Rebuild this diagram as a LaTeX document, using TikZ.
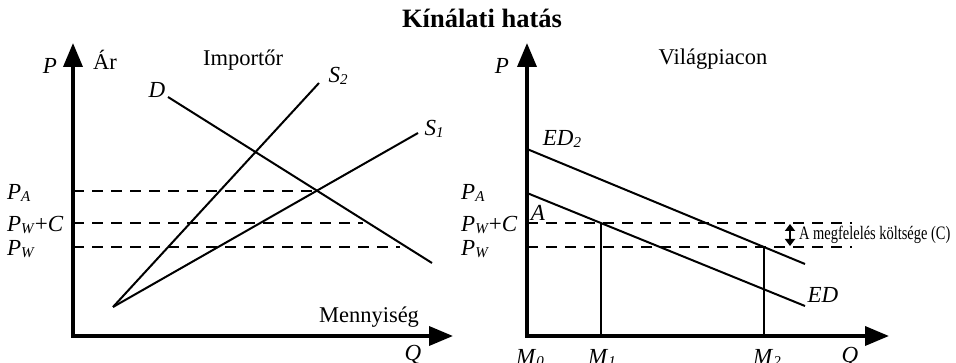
\documentclass[tikz,border=0pt]{standalone}
\usepackage{fontspec}
\setmainfont{Liberation Serif}
\usepackage{graphicx}
\usetikzlibrary{arrows.meta}
\newcommand{\lsub}[2]{\textit{#1}\raisebox{-1.5pt}{\fontsize{15}{15}\selectfont\textit{#2}}}
\begin{document}
\begin{tikzpicture}[x=1pt,y=-1pt,
  axisline/.style={line width=3.6pt,line join=miter,{Triangle[length=24pt,width=19pt]}-{Triangle[length=24pt,width=19pt]}},
  dashline/.style={line width=2pt,dash pattern=on 11pt off 8pt},
  curve/.style={line width=2pt},
  txt/.style={inner sep=0pt,font=\fontsize{22.5}{26}\selectfont},
  lab/.style={inner sep=0pt,font=\fontsize{23}{27}\selectfont\itshape},
  slab/.style={inner sep=0pt,font=\fontsize{23}{27}\selectfont},
  plab/.style={inner sep=0pt,anchor=west,font=\fontsize{23}{27}\selectfont}]
\useasboundingbox (0,0) rectangle (956,363);
\fill[white] (0,0) rectangle (956,363);

\node[inner sep=0pt,font=\fontsize{26.5}{30}\selectfont\bfseries] (title) at (482,18) {Kínálati hatás};

% ---------- left panel ----------
\coordinate (LY) at (73,43);
\coordinate (LO) at (73,336);
\coordinate (LX) at (453,336);
\draw[axisline] (LY) -- (LO) -- (LX);

\coordinate (LA0) at (73,191);  \coordinate (LA1) at (314,191);
\coordinate (LC0) at (73,223);  \coordinate (LC1) at (363,223);
\coordinate (LW0) at (73,247);  \coordinate (LW1) at (400,247);
\draw[dashline] (LA0) -- (LA1);
\draw[dashline] (LC0) -- (LC1);
\draw[dashline] (LW0) -- (LW1);

\coordinate (D0) at (168,97);   \coordinate (D1) at (432,263);
\coordinate (S0) at (113,307);
\coordinate (S2e) at (319,83);  \coordinate (S1e) at (418,133);
\draw[curve] (D0) -- (D1);
\draw[curve] (S0) -- (S2e);
\draw[curve] (S0) -- (S1e);

\node[lab] (lP) at (50,66) {P};
\node[txt] (lAr) at (105,60) {Ár};
\node[txt] (limp) at (243,60) {Importőr};
\node[lab] (lD) at (157,90) {D};
\node[slab] (lS2) at (338,76) {\lsub{S}{2}};
\node[slab] (lS1) at (434,129) {\lsub{S}{1}};
\node[plab] (lPA) at (7,193) {\lsub{P}{A}};
\node[plab] (lPC) at (7,225) {\lsub{P}{W}+\textit{C}};
\node[plab] (lPW) at (7,249) {\lsub{P}{W}};
\node[txt] (lmenny) at (369,317) {Mennyiség};
\node[lab] (lQ) at (413,355) {Q};

% ---------- right panel ----------
\coordinate (RY) at (527,43);
\coordinate (RO) at (527,336);
\coordinate (RX) at (889,336);
\draw[axisline] (RY) -- (RO) -- (RX);

\coordinate (E20) at (527,149); \coordinate (E21) at (805,264);
\coordinate (E0) at (527,193);  \coordinate (E1) at (805,306);
\draw[curve] (E20) -- (E21);
\draw[curve] (E0) -- (E1);

\coordinate (RC0) at (527,223); \coordinate (RC1) at (852,223);
\coordinate (RW0) at (527,247); \coordinate (RW1) at (852,247);
\draw[dashline] (RC0) -- (RC1);
\draw[dashline] (RW0) -- (RW1);

\coordinate (M1t) at (601,223); \coordinate (M1b) at (601,336);
\coordinate (M2t) at (764,247); \coordinate (M2b) at (764,336);
\draw[curve] (M1t) -- (M1b);
\draw[curve] (M2t) -- (M2b);

\coordinate (CA) at (790,224); \coordinate (CB) at (790,246);
\draw[line width=2pt,{Triangle[length=7pt,width=10pt]}-{Triangle[length=7pt,width=10pt]}] (CA) -- (CB);
\node[inner sep=0pt,anchor=west,font=\fontsize{19}{22}\selectfont] (ctext) at (799,235) {\scalebox{0.76}[1]{A megfelelés költsége (C)}};

\node[lab] (rP) at (502,66) {P};
\node[txt] (rvil) at (713,59) {Világpiacon};
\node[slab] (rED2) at (562,139) {\lsub{ED}{2}};
\node[lab] (rED) at (823,295) {ED};
\node[lab] (rA) at (538,213) {A};
\node[plab] (rPA) at (461,193) {\lsub{P}{A}};
\node[plab] (rPC) at (461,225) {\lsub{P}{W}+\textit{C}};
\node[plab] (rPW) at (461,249) {\lsub{P}{W}};
\node[slab] (rM0) at (530,358) {\lsub{M}{0}};
\node[slab] (rM1) at (602,358) {\lsub{M}{1}};
\node[slab] (rM2) at (767,358) {\lsub{M}{2}};
\node[lab] (rQ) at (850,357) {Q};
\end{tikzpicture}
\end{document}
